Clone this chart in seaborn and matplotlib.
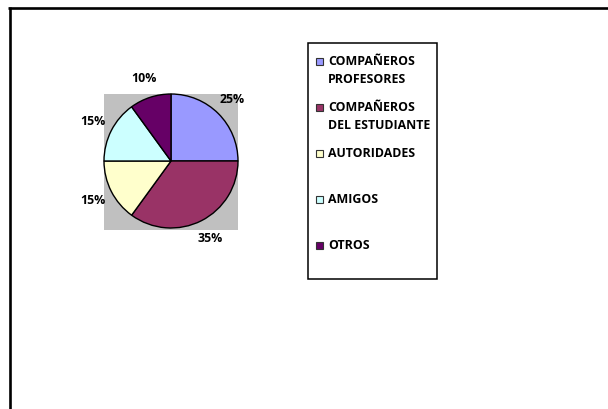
import matplotlib
matplotlib.use("Agg")
import matplotlib.pyplot as plt
from matplotlib.patches import Rectangle
from matplotlib.lines import Line2D
import seaborn as sns

categories = ["COMPAÑEROS\nPROFESORES", "COMPAÑEROS\nDEL ESTUDIANTE", "AUTORIDADES", "AMIGOS", "OTROS"]
values = [25, 35, 15, 15, 10]
slice_colors = ["#9999FF", "#993366", "#FFFFCC", "#CCFFFF", "#660066"]

sns.set_theme(style="white")
plt.rcParams["font.family"] = ["Open Sans", "DejaVu Sans"]

FS = 8.9
W, H = 608, 409
fig = plt.figure(figsize=(W / 100, H / 100), dpi=100)
fig.patch.set_facecolor("white")

def fx(px):
    return px / W

def fy(py):
    return 1 - py / H

# pie axes (gray plot area)
ax = fig.add_axes([fx(104), fy(230), fx(238) - fx(104), fy(94) - fy(230)])
palette = sns.color_palette(slice_colors)
wedges, texts, autotexts = ax.pie(
    values, colors=palette, startangle=90, counterclock=False,
    wedgeprops=dict(edgecolor="black", linewidth=1.0),
    autopct=lambda p: f"{p:.0f}%", pctdistance=1.3,
    textprops=dict(fontsize=FS, fontweight="bold", color="black"),
    frame=True,
)
ax.set_xlim(-1, 1)
ax.set_ylim(-1.03, 1)
ax.set_aspect("auto")
ax.set_xticks([])
ax.set_yticks([])
for s in ax.spines.values():
    s.set_visible(False)
ax.set_facecolor("#C0C0C0")

# outer chart frame (open at right and bottom)
fig.add_artist(Line2D([fx(8), 1.0], [fy(7.5), fy(7.5)], color="black", lw=1.9,
                      solid_capstyle="butt"))
fig.add_artist(Line2D([fx(9.5), fx(9.5)], [fy(6.6), 0.0], color="black", lw=1.9,
                      solid_capstyle="butt"))

# legend box
lx0, ly0, lx1, ly1 = 308, 43, 437, 279
fig.add_artist(Rectangle((fx(lx0), fy(ly1)), fx(lx1) - fx(lx0), fy(ly0) - fy(ly1),
                         facecolor="white", edgecolor="black", lw=1.1, zorder=1))
first_y, step, line_gap = 61.7, 46, 18
for i, (lab, col) in enumerate(zip(categories, palette)):
    y = first_y + i * step
    fig.add_artist(Rectangle((fx(316), fy(y + 3.5)), fx(7), 7 / H,
                             facecolor=col, edgecolor="#333333", lw=0.8, zorder=2))
    for j, line in enumerate(lab.split("\n")):
        fig.text(fx(328), fy(y + j * line_gap), line, fontsize=FS, fontweight="bold",
                 va="center", ha="left", color="black", zorder=3)

fig.savefig("out.png", dpi=100, facecolor="white")
